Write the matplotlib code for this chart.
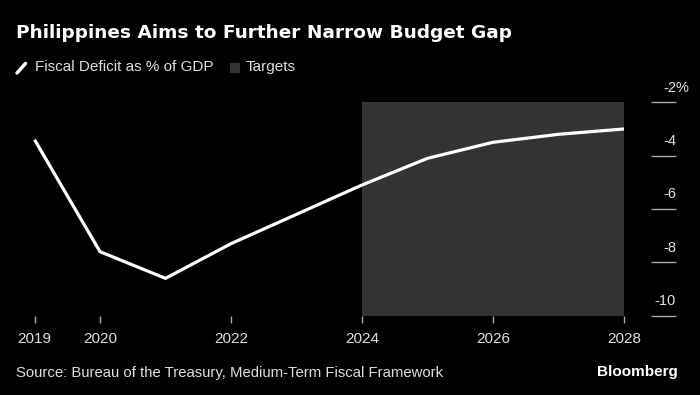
import matplotlib
matplotlib.use("Agg")
import matplotlib.pyplot as plt
import matplotlib.transforms as mtransforms
from matplotlib.lines import Line2D
from matplotlib.patches import Rectangle

# ---- data ----
years = [2019, 2020, 2021, 2022, 2023, 2024, 2025, 2026, 2027, 2028]
deficit = [-3.4, -7.6, -8.6, -7.3, -6.2, -5.1, -4.1, -3.5, -3.2, -3.0]
target_start = 2024
target_end = 2028
xticks = [2019, 2020, 2022, 2024, 2026, 2028]
yticks = [-2, -4, -6, -8, -10]
ytick_labels = ["-2", "-4", "-6", "-8", "-10"]

title = "Philippines Aims to Further Narrow Budget Gap"
series_label = "Fiscal Deficit as % of GDP"
target_label = "Targets"
source = "Source: Bureau of the Treasury, Medium-Term Fiscal Framework"

BG = "#000000"
SHADE = "#333333"
TXT = "#dedede"
TICK = "#aaaaaa"
FONT = "Liberation Sans"

W, H = 700, 395
fig = plt.figure(figsize=(W / 100, H / 100), dpi=100, facecolor=BG)
ax = fig.add_axes([34.5 / W, 79.3 / H, 589.5 / W, 213.4 / H])
ax.set_facecolor(BG)

ax.axvspan(target_start, target_end, color=SHADE, lw=0, zorder=0)
ax.plot(years, deficit, color="white", lw=2.3, solid_capstyle="butt", zorder=3, clip_on=False)

ax.set_xlim(2019, 2028)
ax.set_ylim(-10, -2)
for s in ax.spines.values():
    s.set_visible(False)

ax.set_xticks(xticks)
ax.set_xticklabels([str(x) for x in xticks])
ax.tick_params(axis="x", direction="out", length=5, width=1, color=TICK,
               labelcolor=TXT, labelsize=11, pad=7)
for lab in ax.get_xticklabels():
    lab.set_fontfamily(FONT)
ax.set_yticks([])

# right-side y labels with short rule under each
ytr = ax.get_yaxis_transform()
x0 = (651 - 34.5) / 589.5
x1 = (676 - 34.5) / 589.5
ax.hlines(yticks, x0, x1, transform=ytr, color=TICK, lw=1, clip_on=False)
lab_tr = mtransforms.offset_copy(ytr, fig=fig, x=0, y=10.6, units="points")
for yv, lab in zip(yticks, ytick_labels):
    ax.text(x1, yv, lab, transform=lab_tr, ha="right", va="center",
            color=TXT, fontsize=10.5, fontfamily=FONT, clip_on=False)
    if yv == yticks[0]:
        ax.text(x1, yv, "%", transform=lab_tr, ha="left", va="center",
                color=TXT, fontsize=10.5, fontfamily=FONT, clip_on=False)

# title
fig.text(16 / W, 1 - 33 / H, title, color="white", fontsize=13.3,
         fontweight="bold", fontfamily="DejaVu Sans", ha="left", va="center")

# legend (drawn manually to get the diagonal line key)
fig.add_artist(Line2D([17 / W, 25.5 / W], [1 - 73 / H, 1 - 63.5 / H],
                      transform=fig.transFigure, color="white", lw=2.5,
                      solid_capstyle="round"))
fig.text(35 / W, 1 - 67 / H, series_label, color=TXT, fontsize=11,
         fontfamily=FONT, ha="left", va="center")
fig.add_artist(Rectangle((230 / W, 1 - 73 / H), 10 / W, 10 / H,
                         transform=fig.transFigure, facecolor=SHADE,
                         edgecolor="none"))
fig.text(246 / W, 1 - 67 / H, target_label, color=TXT, fontsize=11,
         fontfamily=FONT, ha="left", va="center")

# footer
fig.text(16 / W, 1 - 373 / H, source, color=TXT, fontsize=10.7,
         fontfamily=FONT, ha="left", va="center")
fig.text(678 / W, 1 - 372 / H, "Bloomberg", color="white", fontsize=11,
         fontweight="bold", fontfamily=FONT, ha="right", va="center")

fig.savefig("out.png", dpi=100, facecolor=BG)
